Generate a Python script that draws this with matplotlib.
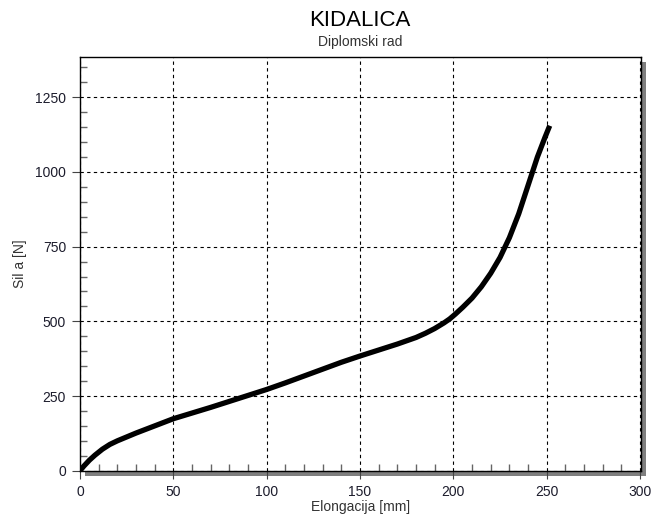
import matplotlib
matplotlib.use("Agg")
import matplotlib.pyplot as plt
from matplotlib.patches import Rectangle

plt.rcParams['font.family'] = ['Liberation Sans', 'DejaVu Sans']

# podaci ocitani sa slike
elongacija = [0, 2, 5, 8, 12, 16, 20, 25, 30, 35, 40, 45, 50, 60, 70, 80, 90, 100,
              110, 120, 130, 140, 150, 160, 170, 180, 185, 190, 195, 198, 201, 205,
              210, 215, 220, 225, 230, 235, 240, 245, 249, 251.6]
sila = [0, 15, 35, 52, 72, 88, 100, 113, 126, 138, 150, 162, 174, 193, 212, 232, 252, 272,
        294, 317, 340, 363, 384, 404, 424, 446, 460, 476, 495, 508, 524, 547,
        578, 616, 661, 714, 780, 860, 955, 1050, 1115, 1155]

x_ticks = [0, 50, 100, 150, 200, 250, 300]
y_ticks = [0, 250, 500, 750, 1000, 1250]

fig = plt.figure(figsize=(6.51, 5.19), dpi=100)
ax = fig.add_axes([80/651, 1-470.7/519, 561/651, (470.7-57)/519])

# sjena
sh = Rectangle((85/651, 1-476/519), 561/651, (470.7-57)/519,
               transform=fig.transFigure, facecolor='#7f7f7f', edgecolor='none', zorder=-1)
fig.patches.append(sh)

ax.plot(elongacija, sila, color='black', lw=3.8, solid_joinstyle='round',
        solid_capstyle='butt', zorder=3)

ax.set_xlim(0, 300.5)
ax.set_ylim(0, 1385)
ax.set_xticks(x_ticks)
ax.set_yticks(y_ticks)
ax.set_xticks(range(0, 301, 10), minor=True)
ax.set_yticks(range(0, 1386, 50), minor=True)
ax.grid(True, which='major', color='black', lw=0.8, linestyle=(0, (3, 3)))
ax.tick_params(which='major', direction='out', length=6, width=0.8, color='#444444',
               labelsize=10, labelcolor='#1c1c2c', pad=4)
ax.tick_params(which='minor', direction='in', length=5, width=1.0, color='#666666')
for s in ax.spines.values():
    s.set_linewidth(1.0)

ax.set_xlabel('Elongacija [mm]', fontsize=10, color='#333333', labelpad=1)
ax.set_ylabel('Sil a [N]', fontsize=10, color='#333333', labelpad=6)

fig.text(360/651, 1-20/519, 'KIDALICA', ha='center', va='center', fontsize=16, color='black')
fig.text(360/651, 1-42/519, 'Diplomski rad', ha='center', va='center', fontsize=10, color='#333333')

fig.savefig('out.png', dpi=100)
